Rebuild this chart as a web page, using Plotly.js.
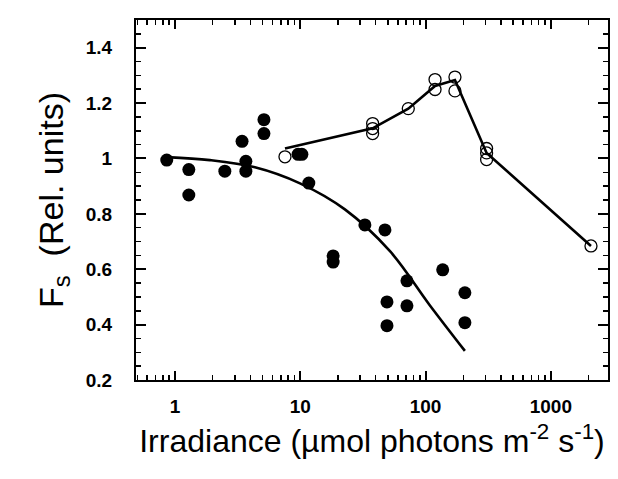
<!DOCTYPE html>
<html>
<head>
<meta charset="utf-8">
<script src="https://cdn.plot.ly/plotly-3.0.1.min.js"></script>
<style>html,body{margin:0;padding:0;background:#fff;}#chart{width:618px;height:479px;}</style>
</head>
<body>
<div id="chart"></div>
<script>
// Filled symbols (low-light data)
var filledX = [0.86, 1.29, 1.29, 2.5, 3.43, 3.68, 3.68, 5.13, 5.13, 9.6, 10.3, 11.7, 18.3, 18.3, 32.8, 47.4, 49.2, 49.2, 71, 71, 137, 206, 206];
var filledY = [0.994, 0.96, 0.868, 0.954, 1.062, 0.99, 0.954, 1.14, 1.09, 1.015, 1.015, 0.911, 0.648, 0.626, 0.76, 0.742, 0.482, 0.396, 0.558, 0.468, 0.598, 0.515, 0.407];
// Smooth fitted curve through filled data
var curveX = [0.86, 1.9, 4.35, 9.95, 22.7, 52.0, 108, 206];
var curveY = [1.005, 0.994, 0.968, 0.910, 0.816, 0.665, 0.470, 0.305];
// Open symbols (high-light data)
var openX = [7.55, 37.8, 37.8, 37.8, 72.8, 119, 119, 171.6, 171.6, 307, 307, 307, 2090];
var openY = [1.006, 1.126, 1.108, 1.09, 1.18, 1.285, 1.249, 1.294, 1.244, 1.036, 1.02, 0.996, 0.684];
// Line through open data
var lineX = [7.55, 37.8, 72.8, 119, 171.6, 307, 2090];
var lineY = [1.036, 1.109, 1.18, 1.262, 1.283, 1.02, 0.684];
// Axis ticks
var xTickVals = [1, 10, 100, 1000];
var xTickText = ['1', '10', '100', '1000'];
var yTickVals = [0.2, 0.4, 0.6, 0.8, 1.0, 1.2, 1.4];
var yTickText = ['0.2', '0.4', '0.6', '0.8', '1', '1.2', '1.4'];

var xMinor = [];
[0.1, 1, 10, 100, 1000].forEach(function (d) {
  for (var k = 2; k <= 9; k++) xMinor.push(d * k);
});

var traces = [
  {x: curveX, y: curveY, mode: 'lines', type: 'scatter', line: {color: '#000', width: 2.6, shape: 'spline', smoothing: 1}, hoverinfo: 'skip'},
  {x: lineX, y: lineY, mode: 'lines', type: 'scatter', line: {color: '#000', width: 2.6}, hoverinfo: 'skip'},
  {x: filledX, y: filledY, mode: 'markers', type: 'scatter', marker: {symbol: 'circle', size: 13, color: '#000', line: {width: 0}}},
  {x: openX, y: openY, mode: 'markers', type: 'scatter', marker: {symbol: 'circle-open', size: 12, color: '#000', line: {width: 1.3, color: '#000'}}}
];

var tickFont = {family: 'Liberation Sans, Arial, sans-serif', size: 19, color: '#000', weight: 700};
var xTitleFont = {family: 'Liberation Sans, Arial, sans-serif', size: 32, color: '#000'};
var yTitleFont = {family: 'Liberation Sans, Arial, sans-serif', size: 34, color: '#000'};

var layout = {
  width: 618, height: 479,
  margin: {l: 136, r: 10, t: 20, b: 99},
  paper_bgcolor: '#fff', plot_bgcolor: '#fff',
  showlegend: false,
  xaxis: {
    type: 'log', range: [-0.311, 3.456],
    tickmode: 'array', tickvals: xTickVals, ticktext: xTickText,
    ticks: 'inside', ticklen: 9, tickwidth: 2, tickcolor: '#000',
    minor: {tickmode: 'array', tickvals: xMinor, ticks: 'inside', ticklen: 5, tickwidth: 1.5, tickcolor: '#000', showgrid: false},
    showline: true, linecolor: '#000', linewidth: 2, mirror: 'ticks',
    showgrid: false, zeroline: false,
    tickfont: tickFont, ticklabelstandoff: 8,
    title: {text: 'Irradiance (\u00b5mol photons m<sup>-2</sup> s<sup>-1</sup>)', font: xTitleFont, standoff: 14}
  },
  yaxis: {
    range: [0.2, 1.5],
    tickmode: 'array', tickvals: yTickVals, ticktext: yTickText,
    ticks: 'inside', ticklen: 10, tickwidth: 2, tickcolor: '#000',
    minor: {dtick: 0.05, ticks: 'inside', ticklen: 5, tickwidth: 1.5, tickcolor: '#000', showgrid: false},
    showline: true, linecolor: '#000', linewidth: 2, mirror: 'ticks',
    showgrid: false, zeroline: false,
    tickfont: tickFont, ticklabelstandoff: 18,
    title: {text: 'F<sub>s</sub>\u00a0\u00a0(Rel. units)', font: yTitleFont, standoff: 12}
  }
};

Plotly.newPlot('chart', traces, layout, {displayModeBar: false, staticPlot: true});
</script>
</body>
</html>
